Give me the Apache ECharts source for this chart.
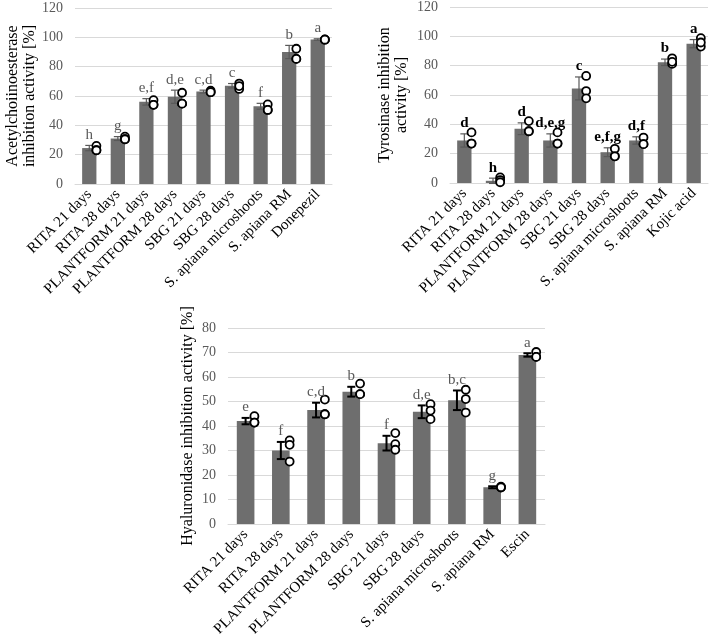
<!DOCTYPE html>
<html>
<head>
<meta charset="utf-8">
<style>
  html, body { margin: 0; padding: 0; background: #fff; }
  #chart { width: 709px; height: 641px; }
</style>
<script src="https://cdn.jsdelivr.net/npm/echarts@6/dist/echarts.min.js"></script>
</head>
<body>
<div id="chart"></div>
<script>
    // acetylcholinesterase panel
    var catsAChE = ['RITA 21 days', 'RITA 28 days', 'PLANTFORM 21 days', 'PLANTFORM 28 days', 'SBG 21 days',
        'SBG 28 days', 'S. apiana microshoots', 'S. apiana RM', 'Donepezil'];
    var meanAChE = [24.5, 31, 56, 59.5, 63, 67, 53, 90, 98.5];
    var errAChE = [1.8, 1.3, 2.2, 4.5, 1, 1.5, 2, 4.5, 0.5];
    var ptsAChE = [[26, 23, 23], [32.3, 30.5, 30.5], [57.2, 54, 54], [62.2, 54.8, 54.8], [63.6, 62.6, 62.6],
        [68.5, 64.8, 66.8], [54.3, 50.5, 50.5], [92.2, 85.3, 85.3], [98.6, 98.4, 98.4]];
    var lettersAChE = ['h', 'g', 'e,f', 'd,e', 'c,d', 'c', 'f', 'b', 'a'];

    // tyrosinase panel
    var catsTyr = ['RITA 21 days', 'RITA 28 days', 'PLANTFORM 21 days', 'PLANTFORM 28 days', 'SBG 21 days',
        'SBG 28 days', 'S. apiana microshoots', 'S. apiana RM', 'Kojic acid'];
    var meanTyr = [29, 1.5, 37, 29, 64.5, 21, 29, 82.3, 95];
    var errTyr = [4.5, 1.8, 4, 4.5, 7.8, 3, 2.5, 2.2, 2.8];
    var ptsTyr = [[34.5, 26.9, 26.9], [3.8, 2, 0.5], [42.2, 35.3, 35.3], [34.5, 26.9, 26.9], [73, 62.7, 57.7],
        [23.3, 18.2, 18.2], [31, 26.5, 26.5], [85, 81.2, 82.6], [98.8, 93, 95.8]];
    var lettersTyr = ['d', 'h', 'd', 'd,e,g', 'c', 'e,f,g', 'd,f', 'b', 'a'];

    // hyaluronidase panel
    var catsHyal = ['RITA 21 days', 'RITA 28 days', 'PLANTFORM 21 days', 'PLANTFORM 28 days', 'SBG 21 days',
        'SBG 28 days', 'S. apiana microshoots', 'S. apiana RM', 'Escin'];
    var meanHyal = [42, 30, 46.5, 54, 33, 45.8, 50.5, 15, 69];
    var errHyal = [1.3, 3.5, 3, 2, 3, 2.6, 4, 0.4, 0.7];
    var ptsHyal = [[44, 41.4, 41.4], [34.1, 32.3, 25.5], [50.8, 44.8, 44.8], [57.3, 53, 53], [37.1, 32.6, 30.3],
        [48.9, 46.3, 42.8], [54.8, 51, 45.5], [15.2, 14.9, 15], [70.2, 68.2, 68.2]];
    var lettersHyal = ['e', 'f', 'c,d', 'b', 'f', 'd,e', 'b,c', 'g', 'a'];

    var barColor = '#6e6e6e';
    var serif = 'Liberation Serif';

    function rows(mean, err, pts) {
        return mean.map(function (m, i) {
            return [i, m, err[i]].concat(pts[i]);
        });
    }

    // error bar + replicate circles + letter, drawn through the axis scales
    function overlay(letters, errColor, errWidth, bold) {
        return function (params, api) {
            var i = api.value(0), m = api.value(1), e = api.value(2);
            var bw = api.size([1, 0])[0] * 0.5;
            var hi = api.coord([i, m + e]);
            var lo = api.coord([i, m - e]);
            var cap = 4;
            var kids = [
                {type: 'line', shape: {x1: hi[0], y1: hi[1], x2: lo[0], y2: lo[1]},
                    style: {stroke: errColor, lineWidth: errWidth}},
                {type: 'line', shape: {x1: hi[0] - cap, y1: hi[1], x2: hi[0] + cap, y2: hi[1]},
                    style: {stroke: errColor, lineWidth: errWidth}},
                {type: 'line', shape: {x1: lo[0] - cap, y1: lo[1], x2: lo[0] + cap, y2: lo[1]},
                    style: {stroke: errColor, lineWidth: errWidth}}
            ];
            for (var k = 3; k < 6; k++) {
                var p = api.coord([i, api.value(k)]);
                kids.push({type: 'circle', shape: {cx: p[0] + bw / 2, cy: p[1], r: 4},
                    style: {fill: '#fff', stroke: '#000', lineWidth: 1.8}});
            }
            kids.push({type: 'text', style: {
                text: letters[params.dataIndex], x: hi[0], y: hi[1] - 3,
                align: 'center', verticalAlign: 'bottom',
                fontFamily: serif, fontSize: 15, fontWeight: bold ? 'bold' : 'normal',
                fill: bold ? '#000' : '#595959'
            }});
            return {type: 'group', children: kids};
        };
    }

    function xAxis(idx, cats) {
        return {
            type: 'category', gridIndex: idx, data: cats,
            axisLine: {lineStyle: {color: '#d9d9d9'}},
            axisTick: {show: false},
            axisLabel: {interval: 0, rotate: 45, margin: 8, color: '#000', fontFamily: serif, fontSize: 15}
        };
    }

    function yAxis(idx, max, interval, name, gap, nameSize) {
        return {
            type: 'value', gridIndex: idx, min: 0, max: max, interval: interval,
            name: name, nameLocation: 'middle', nameRotate: 90, nameGap: gap,
            nameTextStyle: {color: '#000', fontFamily: serif, fontSize: nameSize, lineHeight: 17},
            axisLine: {show: false}, axisTick: {show: false},
            axisLabel: {color: '#595959', fontFamily: serif, fontSize: 14, margin: 12},
            splitLine: {lineStyle: {color: '#d9d9d9'}}
        };
    }

    function bars(idx, data) {
        return {type: 'bar', xAxisIndex: idx, yAxisIndex: idx, data: data, barWidth: '50%',
            itemStyle: {color: barColor}, silent: true};
    }

    function marks(idx, data, renderer) {
        return {type: 'custom', xAxisIndex: idx, yAxisIndex: idx, data: rows.apply(null, data),
            renderItem: renderer, clip: false, z: 5, silent: true,
            encode: {x: 0, y: 1}};
    }

    var myChart = echarts.init(document.getElementById('chart'));
    var option = {
        animation: false,
        grid: [
            {left: 75, right: 377, top: 8, bottom: 457},
            {left: 450, right: 1, top: 7, bottom: 458},
            {left: 228, right: 164, top: 328, bottom: 117}
        ],
        xAxis: [xAxis(0, catsAChE), xAxis(1, catsTyr), xAxis(2, catsHyal)],
        yAxis: [
            yAxis(0, 120, 20, 'Acetylchoiinoesterase\ninhibition activity [%]', 32, 16),
            yAxis(1, 120, 20, 'Tyrosinase inhibition\nactivity [%]', 40, 16),
            yAxis(2, 80, 10, 'Hyaluronidase inhibition activity [%]', 32, 16)
        ],
        series: [
            bars(0, meanAChE),
            bars(1, meanTyr),
            bars(2, meanHyal),
            marks(0, [meanAChE, errAChE, ptsAChE], overlay(lettersAChE, '#595959', 1.2, false)),
            marks(1, [meanTyr, errTyr, ptsTyr], overlay(lettersTyr, '#595959', 1.2, true)),
            marks(2, [meanHyal, errHyal, ptsHyal], overlay(lettersHyal, '#000', 2, false))
        ]
    };

    myChart.setOption(option);
    window.onresize = function () {
        myChart.resize();
    };
</script>
</body>
</html>
